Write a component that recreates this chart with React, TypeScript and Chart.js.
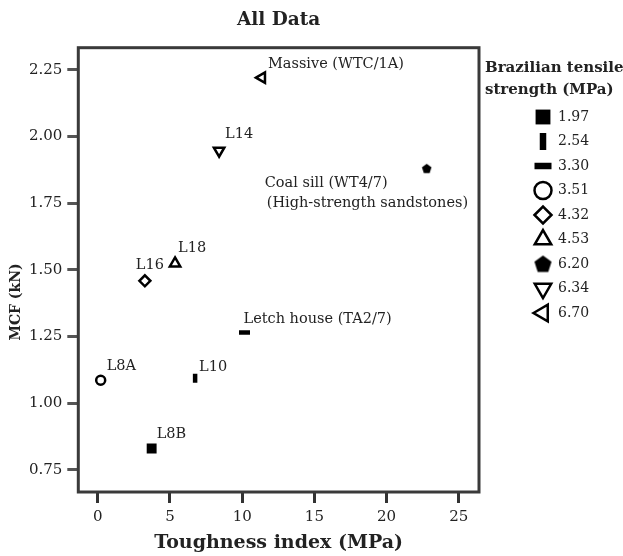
import React, { useEffect, useRef } from 'react';
import { Chart, registerables } from 'chart.js';
import { drawPoint } from 'chart.js/helpers';

Chart.register(...registerables);

// ---------------- data ----------------
const strengthLabels = ['1.97', '2.54', '3.30', '3.51', '4.32', '4.53', '6.20', '6.34', '6.70'];
const sampleNames: string[][] = [
  ['L8B'],
  ['L10'],
  ['Letch house (TA2/7)'],
  ['L8A'],
  ['L16'],
  ['L18'],
  ['Coal sill (WT4/7)', '(High-strength sandstones)'],
  ['L14'],
  ['Massive (WTC/1A)'],
];
const toughness = [3.73, 6.74, 10.16, 0.2, 3.26, 5.35, 22.78, 8.4, 11.37];
const mcf = [0.83, 1.093, 1.265, 1.086, 1.459, 1.524, 1.881, 1.947, 2.221];
const xTicks = [0, 5, 10, 15, 20, 25];
const yTicks = [0.75, 1.0, 1.25, 1.5, 1.75, 2.0, 2.25];

// ---------------- styles ----------------
const SERIF = 'DejaVu Serif';
const TEXT = '#222';

function makePentagon(size: number): HTMLCanvasElement {
  const c = document.createElement('canvas');
  c.width = size;
  c.height = size;
  const g = c.getContext('2d')!;
  const r = size / 2 - 0.5;
  g.beginPath();
  for (let k = 0; k < 5; k++) {
    const a = -Math.PI / 2 + (k * 2 * Math.PI) / 5;
    const px = size / 2 + r * Math.cos(a);
    const py = size / 2 + 0.6 + r * Math.sin(a);
    if (k === 0) g.moveTo(px, py);
    else g.lineTo(px, py);
  }
  g.closePath();
  g.fillStyle = '#000';
  g.fill();
  return c;
}

type MarkerStyle = {
  style: any;
  legendStyle?: any;
  rot: number;
  r: number;
  lr: number;
  bw: number;
  lbw: number;
  filled: boolean;
};

const markerStyles: MarkerStyle[] = [
  { style: 'rect', rot: 0, r: 7, lr: 10.5, bw: 0, lbw: 0, filled: true },
  { style: 'line', rot: 90, r: 4.5, lr: 8.5, bw: 4.5, lbw: 6.5, filled: true },
  { style: 'line', rot: 0, r: 5.5, lr: 8.5, bw: 4.5, lbw: 6.5, filled: true },
  { style: 'circle', rot: 0, r: 4.5, lr: 8.5, bw: 2.5, lbw: 2.5, filled: false },
  { style: 'rectRot', rot: 0, r: 5.5, lr: 8.5, bw: 2.5, lbw: 2.5, filled: false },
  { style: 'triangle', rot: 0, r: 6, lr: 9.5, bw: 2.5, lbw: 2.5, filled: false },
  { style: 'pent', rot: 0, r: 5, lr: 9.5, bw: 0, lbw: 0, filled: true },
  { style: 'triangle', rot: 180, r: 6, lr: 9.5, bw: 2.5, lbw: 2.5, filled: false },
  { style: 'triangle', rot: 270, r: 6, lr: 9.5, bw: 2.5, lbw: 2.5, filled: false },
];

// label offsets (pixels, relative to the marker) for the annotation text
const labelOffsets = [
  [5, -14],
  [4, -11],
  [-1, -13],
  [6, -14],
  [-9, -16],
  [3, -15],
  [-162, 15],
  [6, -16],
  [6, -13],
];

export default function App() {
  const ref = useRef<HTMLCanvasElement | null>(null);

  useEffect(() => {
    document.body.style.margin = '0';
    const canvas = ref.current;
    if (!canvas) return;

    const pentPlot = makePentagon(11);
    const pentLegend = makePentagon(19);

    const styles = markerStyles.map((m) =>
      m.style === 'pent' ? { ...m, style: pentPlot, legendStyle: pentLegend } : { ...m, legendStyle: m.style }
    );

    const framePlugin = {
      id: 'frame',
      beforeDatasetsDraw(chart: any) {
        const { ctx, chartArea } = chart;
        ctx.save();
        ctx.strokeStyle = '#3a3a3a';
        ctx.lineWidth = 3;
        ctx.strokeRect(chartArea.left, chartArea.top, chartArea.right - chartArea.left, chartArea.bottom - chartArea.top);
        ctx.restore();
      },
    };

    const annotatePlugin = {
      id: 'annotate',
      afterDatasetsDraw(chart: any) {
        const { ctx } = chart;
        ctx.save();
        ctx.font = `14.5px "${SERIF}"`;
        ctx.fillStyle = TEXT;
        ctx.textAlign = 'left';
        ctx.textBaseline = 'middle';
        chart.data.datasets.forEach((ds: any, i: number) => {
          const el = chart.getDatasetMeta(i).data[0];
          if (!el) return;
          const [dx, dy] = labelOffsets[i];
          sampleNames[i].forEach((line, k) => {
            ctx.fillText(line, el.x + dx + k * 2, el.y + dy + k * 20);
          });
        });
        // y axis title
        ctx.save();
        ctx.translate(16, 302);
        ctx.rotate(-Math.PI / 2);
        ctx.font = `bold 14px "${SERIF}"`;
        ctx.textAlign = 'center';
        ctx.fillText('MCF (kN)', 0, 0);
        ctx.restore();
        ctx.restore();
      },
    };

    const legendPlugin = {
      id: 'customLegend',
      afterDraw(chart: any) {
        const { ctx } = chart;
        ctx.save();
        ctx.fillStyle = TEXT;
        ctx.font = `bold 15px "${SERIF}"`;
        ctx.textAlign = 'left';
        ctx.textBaseline = 'middle';
        ctx.fillText('Brazilian tensile', 485, 68);
        ctx.fillText('strength (MPa)', 485, 90);
        chart.data.datasets.forEach((ds: any, i: number) => {
          const s = styles[i];
          const y = 117 + i * 24.5;
          const x = 543;
          ctx.save();
          ctx.fillStyle = s.filled ? '#000' : '#fff';
          ctx.strokeStyle = '#000';
          ctx.lineWidth = s.lbw;
          drawPoint(ctx, { pointStyle: s.legendStyle, rotation: s.rot, radius: s.lr, borderWidth: s.lbw } as any, x, y);
          ctx.restore();
          ctx.font = `14px "${SERIF}"`;
          ctx.fillStyle = TEXT;
          ctx.fillText(ds.label, 558, y);
        });
        ctx.restore();
      },
    };

    const tickFont = { family: SERIF, size: 15 };

    const chart = new Chart(canvas, {
      type: 'scatter',
      data: {
        datasets: strengthLabels.map((lab, i) => ({
          label: lab,
          data: [{ x: toughness[i], y: mcf[i] }],
          pointStyle: styles[i].style,
          pointRotation: styles[i].rot,
          pointRadius: styles[i].r,
          pointBorderWidth: styles[i].bw,
          pointBackgroundColor: styles[i].filled ? '#000' : '#fff',
          pointBorderColor: '#000',
        })),
      },
      options: {
        responsive: false,
        animation: false,
        events: [],
        layout: { padding: { left: 0, right: 144, top: 0, bottom: 0 } },
        plugins: {
          legend: { display: false },
          tooltip: { enabled: false },
          title: {
            display: true,
            text: 'All Data',
            fullSize: false,
            color: TEXT,
            font: { family: SERIF, size: 18.5, weight: 'bold' },
            padding: { top: 9, bottom: 16.5 },
          },
        },
        scales: {
          x: {
            type: 'linear',
            min: -1.35,
            max: 26.4,
            afterFit: (s: any) => {
              s.height = 64;
            },
            afterBuildTicks: (s: any) => {
              s.ticks = xTicks.map((v) => ({ value: v }));
            },
            border: { display: false },
            grid: { drawOnChartArea: false, tickLength: 11, tickWidth: 3, tickColor: '#333' },
            ticks: { font: tickFont, color: TEXT, padding: 5, maxRotation: 0, callback: (v: any) => String(v) },
            title: {
              display: true,
              text: 'Toughness index (MPa)',
              color: TEXT,
              font: { family: SERIF, size: 19, weight: 'bold' },
              padding: { top: 0, bottom: 2 },
            },
          },
          y: {
            type: 'linear',
            min: 0.6667,
            max: 2.3333,
            afterFit: (s: any) => {
              s.width = 78.3;
            },
            afterBuildTicks: (s: any) => {
              s.ticks = yTicks.map((v) => ({ value: v }));
            },
            border: { display: false },
            grid: { drawOnChartArea: false, tickLength: 11, tickWidth: 3, tickColor: '#555' },
            ticks: { font: tickFont, color: TEXT, padding: 5, callback: (v: any) => Number(v).toFixed(2) },
          },
        },
      } as any,
      plugins: [framePlugin, annotatePlugin, legendPlugin],
    });

    return () => chart.destroy();
  }, []);

  return (
    <div style={{ width: 623, height: 556, background: '#fff' }}>
      <canvas ref={ref} width={623} height={556} style={{ display: 'block' }} />
    </div>
  );
}
